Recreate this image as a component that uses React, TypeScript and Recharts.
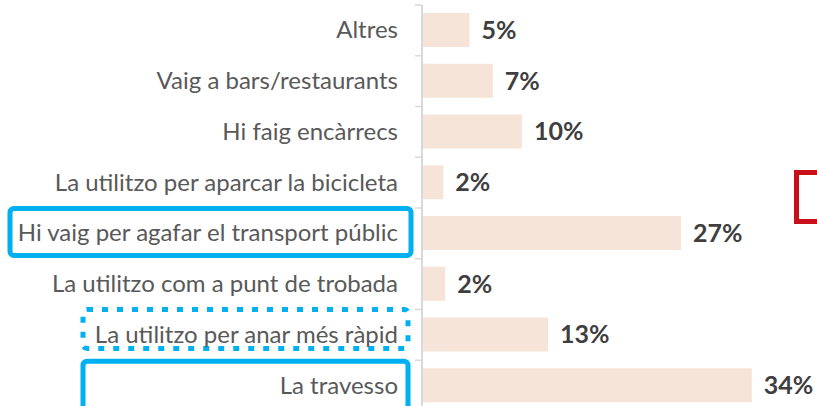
import React from 'react';
import { BarChart, Bar, XAxis, YAxis, LabelList } from 'recharts';

const categories = [
    'Altres',
    'Vaig a bars/restaurants',
    'Hi faig encàrrecs',
    'La utilitzo per aparcar la bicicleta',
    'Hi vaig per agafar el transport públic',
    'La utilitzo com a punt de trobada',
    'La utilitzo per anar més ràpid',
    'La travesso',
];
const values = [4.9, 7.3, 10.3, 2.2, 26.7, 2.4, 13.0, 34.0];

const data = categories.map((name, i) => ({ name, value: values[i] }));

// boxes drawn around some of the labels (offsets from the tick centre)
const highlights: Record<string, { left: number; right: number; top: number; bottom: number; dotted?: boolean }> = {
    'Hi vaig per agafar el transport públic': { left: 10, right: 411, top: -25, bottom: 22 },
    'La utilitzo per anar més ràpid': { left: 83, right: 408, top: -25.5, bottom: 13.5, dotted: true },
    'La travesso': { left: 83, right: 408, top: -24.5, bottom: 26 },
};

const W = 817;
const H = 416;
const TOP = 5;
const BOTTOM = 5;
const AXIS_X = 422;
const BAND = (H - TOP - BOTTOM) / categories.length;
const FONT = 'Lato, "Open Sans", sans-serif';

const CategoryTick = (props: any) => {
    const { x, y, payload, index } = props;
    const hl = highlights[payload.value];
    return (
        <g>
            <line x1={AXIS_X - 7} x2={AXIS_X} y1={y - BAND / 2} y2={y - BAND / 2} stroke="#D9D9D9" strokeWidth={1.5} />
            {index === categories.length - 1 && (
                <line x1={AXIS_X - 7} x2={AXIS_X} y1={y + BAND / 2} y2={y + BAND / 2} stroke="#D9D9D9" strokeWidth={1.5} />
            )}
            {hl && (
                <rect
                    x={hl.left}
                    y={y + hl.top}
                    width={hl.right - hl.left}
                    height={hl.bottom - hl.top}
                    rx={4}
                    fill="none"
                    stroke="#00B0F0"
                    strokeWidth={5}
                    strokeDasharray={hl.dotted ? '6 9' : undefined}
                />
            )}
            <text x={x} y={y} dy={8} textAnchor="end" fill="#595959" fontSize={24} fontFamily={FONT}>
                {payload.value}
            </text>
        </g>
    );
};

const App = () => {
    return (
        <div style={{ position: 'absolute', left: 0, top: 0, width: W, height: 406, overflow: 'hidden', background: '#fff' }}>
            <BarChart
                width={W}
                height={H}
                data={data}
                layout="vertical"
                margin={{ top: TOP, right: 7, bottom: BOTTOM, left: 0 }}
            >
                <XAxis type="number" domain={[0, 40]} hide />
                <YAxis
                    type="category"
                    dataKey="name"
                    width={AXIS_X}
                    interval={0}
                    tickLine={false}
                    tickSize={0}
                    tickMargin={24}
                    axisLine={{ stroke: '#D9D9D9', strokeWidth: 2 }}
                    tick={<CategoryTick />}
                />
                <Bar dataKey="value" fill="#F6E4D9" barSize={34} isAnimationActive={false}>
                    <LabelList
                        dataKey="value"
                        position="right"
                        offset={12}
                        formatter={(v: any) => `${Math.round(Number(v))}%`}
                        fill="#3F3F3F"
                        fontSize={25}
                        fontWeight="bold"
                        fontFamily={FONT}
                    />
                </Bar>
            </BarChart>
            <div
                style={{
                    position: 'absolute',
                    left: 794,
                    top: 170,
                    width: 40,
                    height: 54,
                    border: '5px solid #C8101A',
                    boxSizing: 'border-box',
                }}
            />
        </div>
    );
};

export default App;
